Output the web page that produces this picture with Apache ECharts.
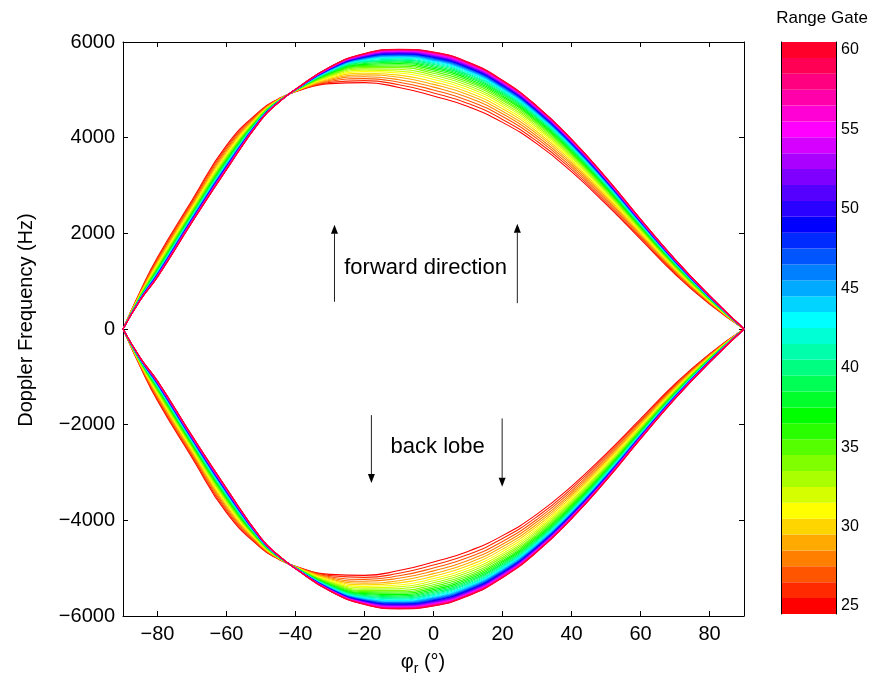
<!DOCTYPE html>
<html>
<head>
<meta charset="utf-8">
<script src="https://cdn.jsdelivr.net/npm/echarts@6/dist/echarts.min.js"></script>
<style>
  html, body { margin: 0; padding: 0; background: #fff; }
  #chart { width: 872px; height: 683px; }
</style>
</head>
<body>
<div id="chart"></div>
<script>
// Receiver azimuth angle (deg) at which each Doppler curve is sampled
const angles = [-90, -85, -80, -70, -60, -50, -45, -40, -30, -20, -10, 0, 10, 20, 30, 40, 50, 60, 70, 80, 90];

// Range gates, one curve each
const rangeGates = [25, 26, 27, 28, 29, 30, 31, 32, 33, 34, 35, 36, 37, 38, 39, 40, 41, 42,
                    43, 44, 45, 46, 47, 48, 49, 50, 51, 52, 53, 54, 55, 56, 57, 58, 59, 60];

// Forward-direction Doppler frequency (Hz), one row per range gate, one value per angle
const forwardDoppler = [
  [0, 790, 1500, 2690, 3840, 4580, 4810, 4960, 5130, 5150, 5050, 4870, 4650, 4320, 3870, 3290, 2610, 1880, 1150, 520, 0],
  [0, 777, 1471, 2658, 3804, 4565, 4804, 4964, 5155, 5193, 5106, 4934, 4715, 4382, 3925, 3338, 2649, 1909, 1172, 533, 0],
  [0, 764, 1443, 2627, 3770, 4551, 4799, 4967, 5178, 5234, 5160, 4997, 4778, 4441, 3979, 3384, 2687, 1938, 1193, 545, 0],
  [0, 751, 1416, 2597, 3736, 4537, 4794, 4970, 5201, 5274, 5212, 5057, 4839, 4499, 4030, 3428, 2724, 1965, 1213, 557, 0],
  [0, 740, 1390, 2568, 3705, 4524, 4789, 4973, 5223, 5312, 5262, 5114, 4897, 4553, 4079, 3470, 2758, 1991, 1232, 568, 0],
  [0, 729, 1366, 2541, 3675, 4512, 4784, 4976, 5243, 5347, 5308, 5167, 4950, 4604, 4125, 3510, 2791, 2016, 1250, 578, 0],
  [0, 718, 1344, 2517, 3648, 4501, 4780, 4979, 5262, 5380, 5352, 5217, 5001, 4652, 4168, 3546, 2821, 2038, 1267, 588, 0],
  [0, 709, 1323, 2494, 3622, 4490, 4776, 4981, 5280, 5411, 5392, 5263, 5047, 4696, 4207, 3580, 2849, 2059, 1282, 597, 0],
  [0, 700, 1303, 2472, 3598, 4480, 4772, 4984, 5296, 5439, 5429, 5306, 5091, 4737, 4244, 3612, 2875, 2079, 1297, 605, 0],
  [0, 692, 1285, 2452, 3576, 4471, 4769, 4986, 5311, 5465, 5464, 5346, 5131, 4775, 4278, 3642, 2900, 2097, 1310, 613, 0],
  [0, 684, 1269, 2434, 3556, 4463, 4765, 4988, 5325, 5490, 5496, 5382, 5168, 4810, 4310, 3669, 2922, 2114, 1323, 620, 0],
  [0, 677, 1254, 2417, 3537, 4455, 4762, 4990, 5338, 5512, 5525, 5417, 5202, 4843, 4339, 3694, 2943, 2130, 1334, 627, 0],
  [0, 671, 1239, 2401, 3520, 4448, 4760, 4991, 5350, 5533, 5552, 5448, 5234, 4873, 4366, 3717, 2962, 2144, 1345, 633, 0],
  [0, 665, 1227, 2387, 3504, 4442, 4757, 4993, 5361, 5552, 5577, 5476, 5263, 4900, 4391, 3738, 2979, 2157, 1354, 639, 0],
  [0, 659, 1215, 2374, 3489, 4436, 4755, 4994, 5371, 5570, 5600, 5503, 5290, 4925, 4414, 3758, 2995, 2169, 1363, 644, 0],
  [0, 654, 1203, 2361, 3475, 4430, 4753, 4996, 5380, 5586, 5622, 5528, 5315, 4949, 4435, 3776, 3010, 2180, 1372, 649, 0],
  [0, 649, 1193, 2350, 3463, 4425, 4751, 4997, 5389, 5601, 5642, 5551, 5338, 4971, 4455, 3793, 3024, 2191, 1379, 653, 0],
  [0, 645, 1183, 2339, 3451, 4420, 4749, 4998, 5397, 5615, 5660, 5572, 5360, 4991, 4473, 3809, 3037, 2200, 1387, 657, 0],
  [0, 641, 1175, 2329, 3440, 4415, 4747, 4999, 5404, 5628, 5677, 5591, 5379, 5010, 4489, 3823, 3049, 2209, 1393, 661, 0],
  [0, 637, 1166, 2320, 3430, 4411, 4746, 5000, 5411, 5640, 5693, 5610, 5398, 5028, 4505, 3837, 3060, 2218, 1399, 665, 0],
  [0, 634, 1159, 2312, 3421, 4407, 4744, 5001, 5418, 5651, 5708, 5626, 5415, 5043, 4519, 3849, 3070, 2225, 1405, 668, 0],
  [0, 631, 1152, 2304, 3412, 4404, 4743, 5002, 5424, 5662, 5721, 5642, 5430, 5058, 4533, 3861, 3080, 2232, 1410, 671, 0],
  [0, 628, 1145, 2297, 3404, 4400, 4742, 5003, 5429, 5672, 5734, 5657, 5445, 5072, 4546, 3871, 3089, 2239, 1415, 674, 0],
  [0, 625, 1139, 2290, 3396, 4397, 4740, 5004, 5435, 5681, 5746, 5670, 5459, 5086, 4557, 3882, 3097, 2245, 1420, 677, 0],
  [0, 622, 1133, 2283, 3389, 4394, 4739, 5004, 5439, 5689, 5757, 5683, 5472, 5098, 4568, 3891, 3105, 2251, 1424, 679, 0],
  [0, 620, 1128, 2277, 3383, 4392, 4738, 5005, 5444, 5697, 5768, 5695, 5484, 5109, 4579, 3900, 3112, 2257, 1428, 682, 0],
  [0, 617, 1122, 2271, 3376, 4389, 4737, 5006, 5449, 5705, 5778, 5707, 5496, 5121, 4589, 3909, 3120, 2262, 1432, 684, 0],
  [0, 615, 1117, 2266, 3370, 4386, 4736, 5006, 5453, 5712, 5788, 5718, 5508, 5131, 4598, 3917, 3126, 2267, 1436, 686, 0],
  [0, 613, 1112, 2260, 3364, 4384, 4735, 5007, 5457, 5720, 5797, 5729, 5519, 5142, 4608, 3925, 3133, 2272, 1440, 688, 0],
  [0, 610, 1108, 2255, 3358, 4382, 4734, 5007, 5461, 5727, 5806, 5739, 5529, 5152, 4617, 3933, 3139, 2277, 1443, 690, 0],
  [0, 608, 1103, 2250, 3352, 4379, 4734, 5008, 5465, 5733, 5815, 5750, 5539, 5161, 4625, 3940, 3145, 2282, 1446, 692, 0],
  [0, 606, 1099, 2246, 3347, 4377, 4733, 5008, 5468, 5739, 5823, 5759, 5548, 5170, 4633, 3947, 3151, 2286, 1450, 694, 0],
  [0, 605, 1095, 2241, 3342, 4375, 4732, 5009, 5472, 5745, 5831, 5768, 5558, 5179, 4641, 3954, 3157, 2290, 1453, 696, 0],
  [0, 603, 1091, 2237, 3338, 4373, 4731, 5009, 5475, 5751, 5838, 5776, 5566, 5187, 4648, 3960, 3162, 2294, 1455, 697, 0],
  [0, 601, 1088, 2233, 3334, 4371, 4731, 5010, 5478, 5756, 5844, 5784, 5574, 5194, 4655, 3965, 3166, 2297, 1458, 699, 0],
  [0, 600, 1085, 2230, 3330, 4370, 4730, 5010, 5480, 5760, 5850, 5790, 5580, 5200, 4660, 3970, 3170, 2300, 1460, 700, 0]
];

// The back lobe is the mirror image of the forward direction (negative Doppler)
const backLobeDoppler = forwardDoppler.map(row => row.map(v => -v));

const angleTicks = [-80, -60, -40, -20, 0, 20, 40, 60, 80];
const gateTicks = [25, 30, 35, 40, 45, 50, 55, 60];

// Annotation arrows (angle, tail, tip) and labels in data units
const arrowNotes = [
  { angle: -28.7, tail: 570, tip: 2180 },
  { angle: 24.3, tail: 540, tip: 2200 },
  { angle: -18.0, tail: -1800, tip: -3220 },
  { angle: 19.9, tail: -1870, tip: -3300 }
];
const textNotes = [
  { text: 'forward direction', angle: -2.3, value: 1277 },
  { text: 'back lobe', angle: 1.2, value: -2465 }
];

const FONT = '"Liberation Sans", Arial, Helvetica, sans-serif';
const BLACK = '#000';
const gateColor = g => `hsl(${(g - rangeGates[0]) * 10}, 100%, 50%)`;
const withMinus = v => (v < 0 ? '\u2212' + Math.abs(v) : String(v));

const chart = echarts.init(document.getElementById('chart'), null, { renderer: 'canvas' });

// One line for the forward curve and one for the back lobe of every gate;
// later (farther) gates are drawn on top.
const curveSeries = [];
rangeGates.forEach((g, i) => {
  [forwardDoppler[i], backLobeDoppler[i]].forEach(row => {
    curveSeries.push({
      type: 'line',
      xAxisIndex: 0,
      yAxisIndex: 0,
      data: angles.map((a, j) => [a, row[j]]),
      smooth: 0.5,
      showSymbol: false,
      symbol: 'none',
      silent: true,
      lineStyle: { width: 1.1, color: gateColor(g) },
      z: 2
    });
  });
});

// Colour bar: one band per range gate
const colorBarSeries = {
  type: 'bar',
  xAxisIndex: 2,
  yAxisIndex: 2,
  barCategoryGap: '0%',
  silent: true,
  z: 1,
  data: rangeGates.map(g => ({ value: 1, itemStyle: { color: gateColor(g) } }))
};

const frameX = (pos, show) => ({
  gridIndex: 0, type: 'value', min: -90, max: 90, position: pos,
  axisLine: { onZero: false, lineStyle: { color: BLACK, width: 1 } },
  axisTick: { inside: true, length: 5, customValues: angleTicks, lineStyle: { color: BLACK } },
  axisLabel: show ? { customValues: angleTicks, formatter: withMinus, fontSize: 20, color: BLACK, fontFamily: FONT, margin: 8 } : { show: false },
  splitLine: { show: false }
});
const frameY = (pos, show) => ({
  gridIndex: 0, type: 'value', min: -6000, max: 6000, interval: 2000, position: pos,
  axisLine: { onZero: false, lineStyle: { color: BLACK, width: 1 } },
  axisTick: { inside: true, length: 5, lineStyle: { color: BLACK } },
  axisLabel: show ? { formatter: withMinus, fontSize: 20, color: BLACK, fontFamily: FONT, margin: 8 } : { show: false },
  splitLine: { show: false }
});
const barEdgeX = pos => ({
  gridIndex: 1, type: 'value', min: 0, max: 1, position: pos, z: 10,
  axisLine: { onZero: false, lineStyle: { color: BLACK, width: 1 } },
  axisTick: { show: false }, axisLabel: { show: false }, splitLine: { show: false }
});
const isGateTick = (idx, val) => gateTicks.indexOf(Number(val)) >= 0;
const barEdgeY = (pos, show) => ({
  gridIndex: 1, type: 'category', data: rangeGates.map(String), position: pos, z: 10,
  boundaryGap: true,
  axisLine: { onZero: false, lineStyle: { color: BLACK, width: 1 } },
  axisTick: { inside: true, length: 4, alignWithLabel: true, interval: isGateTick, lineStyle: { color: BLACK } },
  axisLabel: show ? { interval: isGateTick, fontSize: 16, color: BLACK, fontFamily: FONT, margin: 5 } : { show: false },
  splitLine: { show: false }
});

chart.setOption({
  animation: false,
  backgroundColor: '#fff',
  grid: [
    { left: 123, top: 42, width: 621, height: 574, containLabel: false },
    { left: 781, top: 42, width: 55, height: 572, containLabel: false }
  ],
  xAxis: [frameX('bottom', true), frameX('top', false), barEdgeX('bottom'), barEdgeX('top')],
  yAxis: [frameY('left', true), frameY('right', false), barEdgeY('right', true), barEdgeY('left', false)],
  series: curveSeries.concat([colorBarSeries])
});

// Axis titles, colour bar title and annotations
const toPx = (x, y) => chart.convertToPixel({ gridIndex: 0 }, [x, y]);
const graphics = [];

graphics.push({
  type: 'text', x: 26, y: 320, rotation: Math.PI / 2,
  style: { text: 'Doppler Frequency (Hz)', fontSize: 20, fontFamily: FONT, fill: BLACK, textAlign: 'center', textVerticalAlign: 'middle' }
});
graphics.push({
  type: 'text', x: 423, y: 662,
  style: {
    text: '{a|\u03c6}{b|r}{a| (\u00b0)}',
    fill: BLACK, textAlign: 'center', textVerticalAlign: 'middle',
    rich: {
      a: { fontSize: 20, fontFamily: FONT, fill: BLACK, lineHeight: 28 },
      b: { fontSize: 14, fontFamily: FONT, fill: BLACK, verticalAlign: 'bottom', lineHeight: 14 }
    }
  }
});
graphics.push({
  type: 'text', x: 822, y: 18,
  style: { text: 'Range Gate', fontSize: 17, fontFamily: FONT, fill: BLACK, textAlign: 'center', textVerticalAlign: 'middle' }
});

arrowNotes.forEach(a => {
  const [x, yTail] = toPx(a.angle, a.tail);
  const [, yTip] = toPx(a.angle, a.tip);
  const dir = yTip < yTail ? 1 : -1;       // +1 when the arrow points up
  const head = 9, half = 3.5;
  graphics.push({
    type: 'line', silent: true,
    shape: { x1: x, y1: yTail, x2: x, y2: yTip + dir * head },
    style: { stroke: '#222', lineWidth: 1 }
  });
  graphics.push({
    type: 'polygon', silent: true,
    shape: { points: [[x, yTip], [x - half, yTip + dir * head], [x + half, yTip + dir * head]] },
    style: { fill: BLACK }
  });
});

textNotes.forEach(t => {
  const [x, y] = toPx(t.angle, t.value);
  graphics.push({
    type: 'text', x, y,
    style: { text: t.text, fontSize: 22, fontFamily: FONT, fill: BLACK, textAlign: 'center', textVerticalAlign: 'middle' }
  });
});

chart.setOption({ graphic: { elements: graphics } });
</script>
</body>
</html>
